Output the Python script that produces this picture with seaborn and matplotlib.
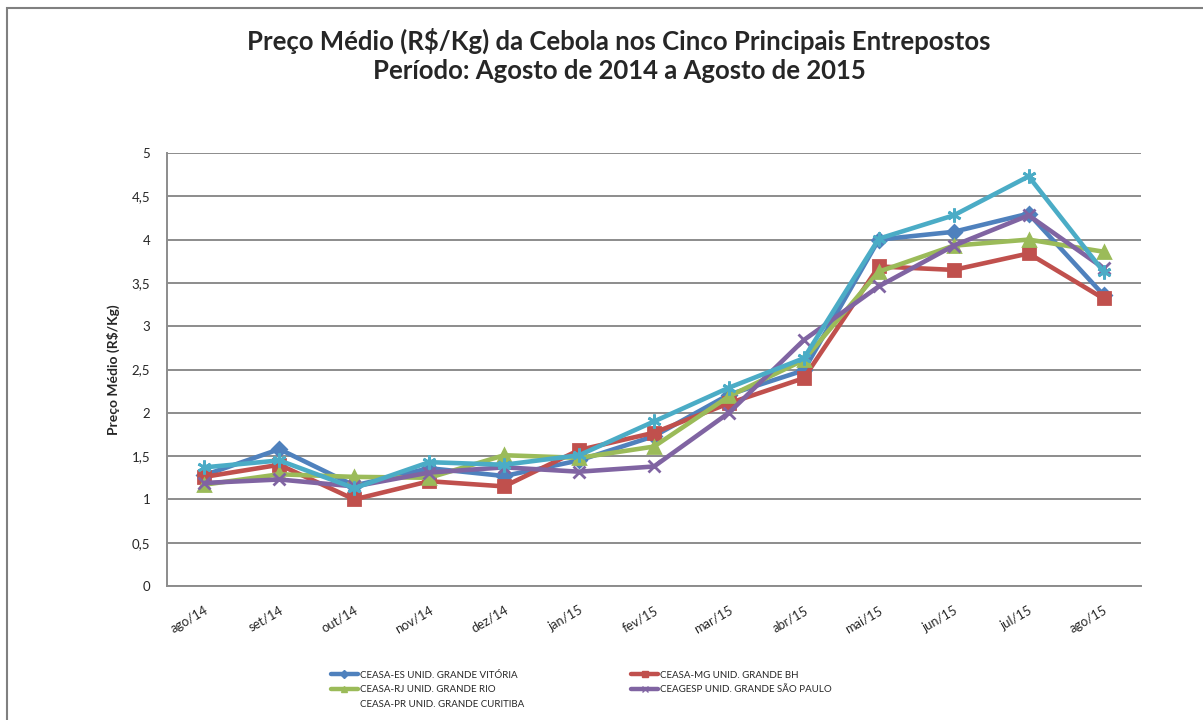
import matplotlib
matplotlib.use("Agg")
import matplotlib.pyplot as plt
import matplotlib.patches as mpatches
from matplotlib.lines import Line2D
import seaborn as sns
import pandas as pd

months = ["ago/14", "set/14", "out/14", "nov/14", "dez/14", "jan/15", "fev/15",
          "mar/15", "abr/15", "mai/15", "jun/15", "jul/15", "ago/15"]

ceasa_es = [1.28, 1.58, 1.16, 1.36, 1.27, 1.45, 1.73, 2.21, 2.49, 4.00, 4.09, 4.30, 3.36]
ceasa_mg = [1.26, 1.40, 1.00, 1.21, 1.15, 1.57, 1.77, 2.11, 2.40, 3.69, 3.65, 3.84, 3.32]
ceasa_rj = [1.17, 1.29, 1.26, 1.25, 1.51, 1.48, 1.61, 2.19, 2.61, 3.63, 3.93, 4.00, 3.86]
ceagesp = [1.19, 1.23, 1.15, 1.31, 1.37, 1.32, 1.38, 2.00, 2.84, 3.46, 3.93, 4.28, 3.67]
ceasa_pr = [1.37, 1.45, 1.13, 1.43, 1.40, 1.51, 1.90, 2.29, 2.63, 4.01, 4.28, 4.73, 3.63]

series_names = ["CEASA-ES UNID. GRANDE VITÓRIA", "CEASA-MG UNID. GRANDE BH",
                "CEASA-RJ UNID. GRANDE RIO", "CEAGESP UNID. GRANDE SÃO PAULO",
                "CEASA-PR UNID. GRANDE CURITIBA"]
series_values = [ceasa_es, ceasa_mg, ceasa_rj, ceagesp, ceasa_pr]
colors = ["#4F81BD", "#C0504D", "#9BBB59", "#8064A2", "#4BACC6"]
markers = ["D", "s", "^", "x", (6, 2, 0)]
msizes = [7, 9, 9, 8, 10]

title_text = "Preço Médio (R$/Kg) da Cebola nos Cinco Principais Entrepostos\nPeríodo: Agosto de 2014 a Agosto de 2015"
ylabel_text = "Preço Médio (R$/Kg)"

rows = []
for name, vals in zip(series_names, series_values):
    for i, (m, v) in enumerate(zip(months, vals)):
        rows.append({"serie": name, "mes": m, "pos": i, "valor": v})
df = pd.DataFrame(rows)

sns.set_style("white")
plt.rcParams["font.family"] = ["Lato", "DejaVu Sans"]

fig = plt.figure(figsize=(12.03, 7.2), dpi=100)
W, H = 1203, 720
ax = fig.add_axes([167 / W, 1 - 586 / H, (1141 - 167) / W, (586 - 153) / H])

for name, col, mk, ms in zip(series_names, colors, markers, msizes):
    sub = df[df["serie"] == name]
    sns.lineplot(data=sub, x="pos", y="valor", ax=ax, color=col, linewidth=3.3,
                 marker=mk, markersize=ms, markeredgecolor=col, markeredgewidth=2,
                 legend=False, zorder=3)

ax.set_xlim(-0.5, len(months) - 0.5)
ax.set_ylim(0, 5)
ax.set_yticks([0, 0.5, 1, 1.5, 2, 2.5, 3, 3.5, 4, 4.5, 5])
ax.set_yticklabels([("%g" % t).replace(".", ",") for t in ax.get_yticks()], fontsize=9.5)
ax.set_xticks(range(len(months)))
ax.set_xticklabels(months, fontsize=9.3, rotation=30, ha="right", va="top",
                   rotation_mode="anchor")
ax.tick_params(axis="x", length=0, pad=13)
ax.tick_params(axis="y", length=0, pad=12)
ax.yaxis.grid(True, color="#8C8C8C", linewidth=1.4)
ax.xaxis.grid(False)
for s in ["top", "right"]:
    ax.spines[s].set_visible(False)
for s in ["left", "bottom"]:
    ax.spines[s].set_color("#8C8C8C")
    ax.spines[s].set_linewidth(1.4)
ax.set_xlabel("")
ax.set_ylabel(ylabel_text, fontsize=10, fontweight="bold")
ax.yaxis.set_label_coords((120 - 167) / 974, 0.5)

fig.text(619 / W, 1 - 55 / H, title_text, ha="center", va="center",
         fontsize=18.5, fontweight="bold", linespacing=1.25)

# outer chart frame
frame = mpatches.Rectangle((7 / W, -0.1), 1.2, 1 - 8 / H + 0.1, transform=fig.transFigure,
                           fill=False, edgecolor="#808080", linewidth=1.5, zorder=0)
fig.patches.append(frame)

handles = []
for name, col, mk in zip(series_names, colors, markers):
    if name.startswith("CEASA-PR"):
        handles.append(Line2D([], [], color="none", label=name))
    else:
        handles.append(Line2D([], [], color=col, linewidth=3.2, marker=mk, markersize=4,
                              markeredgecolor=col, label=name))
order = [0, 2, 4, 1, 3]
leg = fig.legend([handles[i] for i in order], [series_names[i] for i in order],
                 ncol=2, loc="upper left", bbox_to_anchor=(326 / W, 1 - 666 / H),
                 frameon=False, fontsize=7, handlelength=2.8, handletextpad=0.2,
                 columnspacing=11.0, labelspacing=0.55, borderpad=0)

fig.savefig("out.png", dpi=100, facecolor="white")
